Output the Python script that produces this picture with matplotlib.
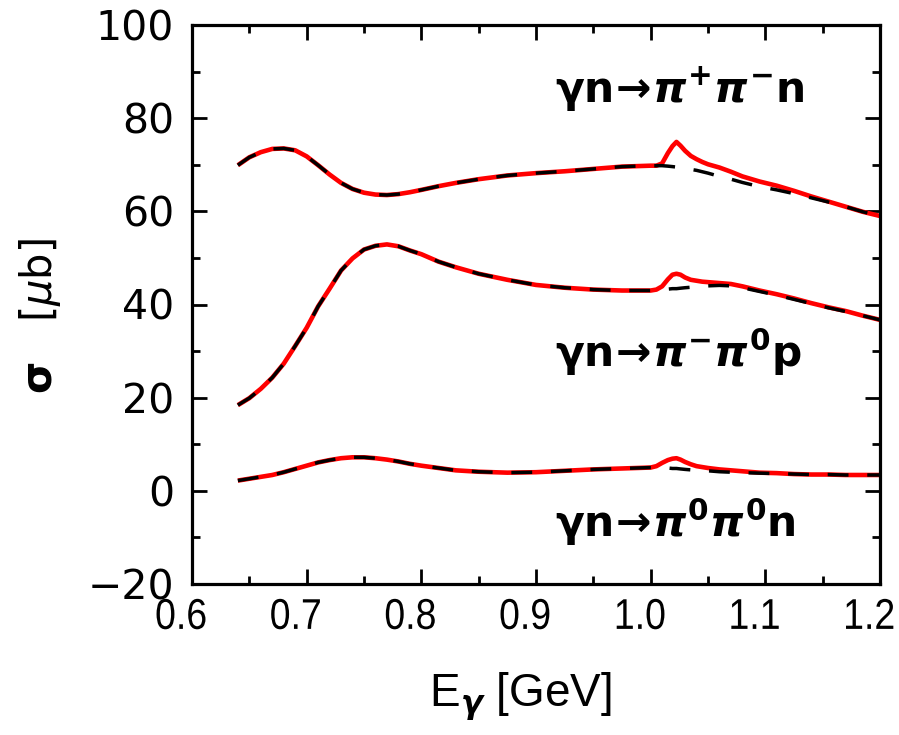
import matplotlib
matplotlib.use("Agg")
import matplotlib.pyplot as plt
from matplotlib.ticker import MultipleLocator, FixedLocator
from matplotlib.patheffects import AbstractPathEffect
from matplotlib.transforms import Affine2D, ScaledTranslation

# Photon energy grid [GeV]
E = [0.640, 0.650, 0.660, 0.670, 0.680, 0.690, 0.700, 0.710, 0.720, 0.730,
     0.740, 0.750, 0.760, 0.770, 0.780, 0.790, 0.800, 0.815, 0.830, 0.850,
     0.875, 0.900, 0.925, 0.950, 0.975, 1.000, 1.005, 1.010, 1.015, 1.019,
     1.0225, 1.026, 1.030, 1.035, 1.040, 1.045, 1.050, 1.060, 1.070, 1.080,
     1.095, 1.110, 1.125, 1.140, 1.155, 1.170, 1.185, 1.200]

# gamma n -> pi+ pi- n  [mu b]
pipm_bg = [69.9, 71.6, 72.7, 73.4, 73.5, 73.1, 71.8, 69.9, 67.9, 66.1,
           64.8, 64.0, 63.6, 63.5, 63.7, 64.1, 64.6, 65.4, 66.1, 66.9,
           67.7, 68.2, 68.6, 69.1, 69.6, 69.8, 69.8, 69.8, 69.7, 69.6,
           69.5, 69.4, 69.2, 69.0, 68.8, 68.5, 68.2, 67.5, 66.9, 66.2,
           65.3, 64.6, 63.8, 62.9, 62.0, 61.0, 59.9, 59.0]
pipm_full = [69.9, 71.6, 72.7, 73.4, 73.5, 73.1, 71.8, 69.9, 67.9, 66.1,
             64.8, 64.0, 63.6, 63.5, 63.7, 64.1, 64.6, 65.4, 66.1, 66.9,
             67.7, 68.2, 68.6, 69.1, 69.6, 69.8, 69.8, 70.3, 72.5, 74.0,
             74.9, 74.1, 73.0, 71.9, 71.2, 70.6, 70.1, 69.4, 68.5, 67.5,
             66.4, 65.5, 64.4, 63.2, 62.1, 61.0, 59.9, 59.0]

# gamma n -> pi- pi0 p  [mu b]
pim0_bg = [18.4, 19.9, 21.9, 24.3, 27.3, 31.1, 35.0, 39.6, 43.4, 47.3,
           49.9, 51.8, 52.6, 52.9, 52.5, 51.6, 50.8, 49.2, 48.0, 46.6,
           45.3, 44.2, 43.6, 43.2, 43.0, 43.0, 43.1, 43.2, 43.3, 43.4,
           43.4, 43.5, 43.6, 43.7, 43.8, 43.9, 44.0, 44.1, 44.0, 43.6,
           42.8, 42.0, 41.1, 40.2, 39.3, 38.5, 37.6, 36.7]
pim0_full = [18.4, 19.9, 21.9, 24.3, 27.3, 31.1, 35.0, 39.6, 43.4, 47.3,
             49.9, 51.8, 52.6, 52.9, 52.5, 51.6, 50.8, 49.2, 48.0, 46.6,
             45.3, 44.2, 43.6, 43.2, 43.0, 43.0, 43.2, 43.9, 45.4, 46.4,
             46.6, 46.4, 45.8, 45.3, 45.1, 44.9, 44.8, 44.6, 44.4, 43.9,
             43.0, 42.2, 41.3, 40.3, 39.4, 38.6, 37.6, 36.7]

# gamma n -> pi0 pi0 n  [mu b]
pi00_bg = [2.2, 2.6, 3.0, 3.4, 4.0, 4.7, 5.4, 6.1, 6.6, 7.0,
           7.2, 7.2, 7.0, 6.7, 6.3, 5.8, 5.4, 4.9, 4.4, 4.1,
           3.9, 4.0, 4.3, 4.6, 4.8, 5.0, 5.0, 5.0, 4.9, 4.8,
           4.8, 4.7, 4.6, 4.5, 4.4, 4.35, 4.3, 4.1, 4.0, 3.9,
           3.8, 3.7, 3.6, 3.5, 3.5, 3.4, 3.4, 3.4]
pi00_full = [2.2, 2.6, 3.0, 3.4, 4.0, 4.7, 5.4, 6.1, 6.6, 7.0,
             7.2, 7.2, 7.0, 6.7, 6.3, 5.8, 5.4, 4.9, 4.4, 4.1,
             3.9, 4.0, 4.3, 4.6, 4.8, 5.0, 5.3, 6.0, 6.6, 6.9,
             7.0, 6.7, 6.2, 5.7, 5.3, 5.1, 4.9, 4.6, 4.4, 4.2,
             3.9, 3.8, 3.6, 3.5, 3.5, 3.4, 3.4, 3.4]

x_ticks = [0.6, 0.7, 0.8, 0.9, 1.0, 1.1, 1.2]
x_ticklabels = ["0.6", "0.7", "0.8", "0.9", "1.0", "1.1", "1.2"]
y_ticks = [-20, 0, 20, 40, 60, 80, 100]

channel_labels = [
    (r"$\mathbf{\gamma n\!\rightarrow\!}\pi^{\mathbf{+}}\pi^{\mathbf{-}}\mathbf{n}$", 86.0),
    (r"$\mathbf{\gamma n\!\rightarrow\!}\pi^{\mathbf{-}}\pi^{\mathbf{0}}\mathbf{p}$", 29.8),
    (r"$\mathbf{\gamma n\!\rightarrow\!}\pi^{\mathbf{0}}\pi^{\mathbf{0}}\mathbf{n}$", -6.7),
]


class Narrow(AbstractPathEffect):
    """Draw text narrowed horizontally about its own centre."""

    def __init__(self, sx=1.0):
        super().__init__()
        self.sx = sx

    def draw_path(self, renderer, gc, tpath, affine, rgbFace=None):
        ext = tpath.get_extents()
        cx = 0.5 * (ext.x0 + ext.x1)
        t = Affine2D().translate(-cx, 0).scale(self.sx, 1).translate(cx, 0) + affine
        renderer.draw_path(gc, tpath, t, rgbFace)


plt.rcParams["mathtext.fontset"] = "custom"
plt.rcParams["mathtext.rm"] = "DejaVu Sans"
plt.rcParams["mathtext.bf"] = "DejaVu Sans:bold"
plt.rcParams["mathtext.it"] = "DejaVu Sans:italic:bold"
plt.rcParams["mathtext.sf"] = "DejaVu Sans:italic"

W, H = 899, 735
fig = plt.figure(figsize=(W / 100, H / 100), dpi=100)
ax = fig.add_axes([192 / W, 1 - 584 / H, 688 / W, 559 / H])

curves = [(pipm_full, pipm_bg), (pim0_full, pim0_bg), (pi00_full, pi00_bg)]
for full, bg in curves:
    ax.plot(E, full, color="#ff0000", lw=3.3, solid_capstyle="butt", zorder=2)
    ax.plot(E, bg, color="black", lw=2.5, dashes=(6.0, 5.4), zorder=3)

ax.set_xlim(0.6, 1.2)
ax.set_ylim(-20, 100)
ax.xaxis.set_major_locator(FixedLocator(x_ticks))
ax.xaxis.set_minor_locator(MultipleLocator(0.05))
ax.yaxis.set_major_locator(FixedLocator(y_ticks))
ax.yaxis.set_minor_locator(MultipleLocator(10))
ax.set_xticklabels(x_ticklabels)

for s in ax.spines.values():
    s.set_linewidth(2.3)
ax.tick_params(which="both", direction="in", top=True, right=True, width=2.0)
ax.tick_params(which="major", length=11)
ax.tick_params(which="minor", length=6)
ax.tick_params(axis="y", which="major", labelsize=29.5, pad=13)
ax.tick_params(axis="x", which="major", labelsize=31, pad=10)
for lab in ax.get_yticklabels():
    lab.set_family("DejaVu Sans")

# x tick labels: narrow glyphs, set slightly left of their ticks
shift_left = ScaledTranslation(-11 / 100, 0, fig.dpi_scale_trans)
for tick in ax.xaxis.get_major_ticks():
    lab = tick.label1
    lab.set_family("Liberation Sans")
    lab.set_path_effects([Narrow(sx=0.87)])
    lab.set_transform(lab.get_transform() + shift_left)

# axis titles
fig.text(40 / W, 1 - 316 / H, r"$\mathbf{\sigma}$   [$\mathsf{\mu}$b]",
         fontsize=30, family="DejaVu Sans", rotation=90,
         ha="center", va="center")
fig.text(429 / W, 1 - 697 / H, r"E$_{\gamma}$ [GeV]", fontsize=33,
         family="Liberation Sans", ha="left", va="center")

for text, yv in channel_labels:
    ax.text(0.917, yv, text, fontsize=30.5, ha="left", va="center")

fig.savefig("out.png", dpi=100)
